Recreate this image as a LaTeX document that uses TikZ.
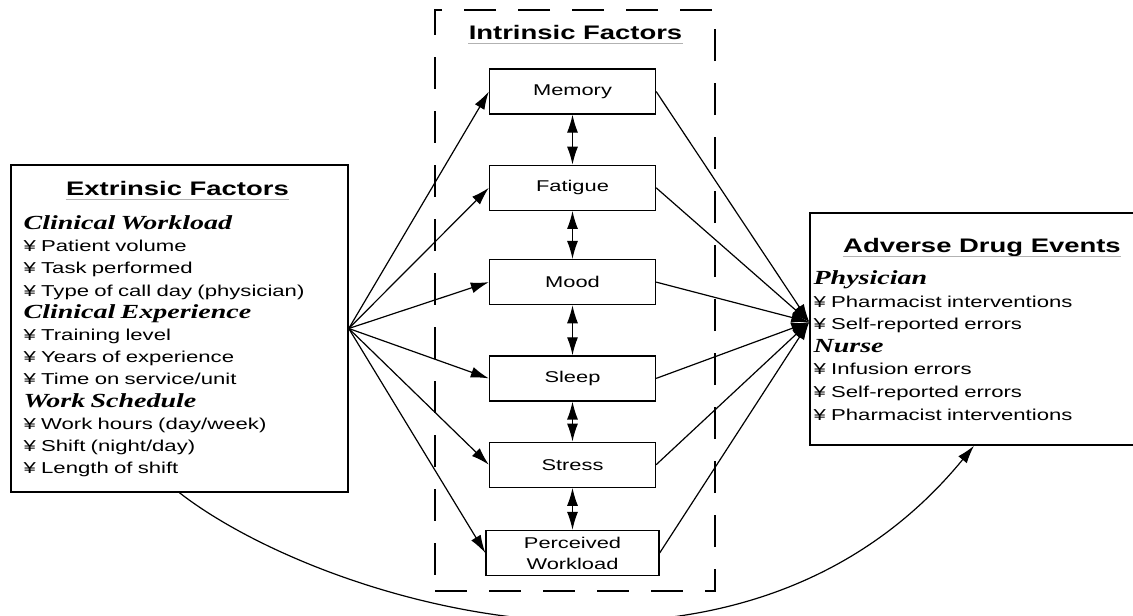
\documentclass[tikz,border=0pt]{standalone}
\usepackage{fontspec}
\setmainfont[FakeStretch=1.4]{Liberation Sans}
\newfontfamily\headfont[FakeStretch=1.4]{Liberation Serif}
\usetikzlibrary{positioning,arrows.meta}
\tikzstyle{factorbox}=[draw,line width=1.3pt,minimum width=166pt,minimum height=45pt,inner sep=2pt,align=center,font=\fontsize{15.6}{21}\selectfont]
\tikzstyle{groupbox}=[draw,line width=1.5pt,inner sep=0pt]
\tikzstyle{framebox}=[draw,line width=1.3pt,dash pattern=on 32pt off 22pt,inner sep=0pt]
\tikzstyle{titletext}=[inner sep=0pt,font=\fontsize{19.6}{22}\selectfont\bfseries]
\tikzstyle{listtext}=[inner sep=0pt,align=left,font=\fontsize{15.8}{22.2}\selectfont]
\tikzstyle{ruleline}=[gray!60,line width=0.8pt]
\newcommand{\subhead}[1]{{\fontsize{20}{22.2}\selectfont\headfont\bfseries\itshape #1}}
\newcommand{\newFactor}[3]{\node[factorbox](#1)[#3]{#2};}
\newcommand{\newLink}[3]{\path[#3] (#1) edge (#2);}

\begin{document}
\begin{tikzpicture}[x=1pt,y=-1pt,node distance=50pt,
        >={Latex[length=18pt,width=11pt]},
        line width=1.2pt
        ]
        \useasboundingbox (0,0) rectangle (1133,616);
        \clip (0,0) rectangle (1133,616);
        % outer boxes
        \node[groupbox,minimum width=337pt,minimum height=327pt] (ext) at (179.5,328.5) {};
        \node[titletext,anchor=base] (extT) at (177.5,195) {Extrinsic Factors};
        \draw[ruleline] ([yshift=-4pt]extT.base west) -- ([yshift=-4pt]extT.base east);
        \node[listtext,text width=320pt,anchor=north west] (extL) at (23,215) {%
          \subhead{Clinical Workload}\\
          ¥ Patient volume\\
          ¥ Task performed\\
          ¥ Type of call day (physician)\\
          \subhead{Clinical Experience}\\
          ¥ Training level\\
          ¥ Years of experience\\
          ¥ Time on service/unit\\
          \subhead{Work Schedule}\\
          ¥ Work hours (day/week)\\
          ¥ Shift (night/day)\\
          ¥ Length of shift};
        \node[groupbox,minimum width=328pt,minimum height=232pt] (ade) at (974,329) {};
        \node[titletext,anchor=base] (adeT) at (982,252) {Adverse Drug Events};
        \draw[ruleline] ([yshift=-4pt]adeT.base west) -- ([yshift=-4pt]adeT.base east);
        \node[listtext,text width=310pt,anchor=north west,font=\fontsize{15.8}{22.6}\selectfont] (adeL) at (813,270) {%
          \subhead{Physician}\\
          ¥ Pharmacist interventions\\
          ¥ Self-reported errors\\
          \subhead{Nurse}\\
          ¥ Infusion errors\\
          ¥ Self-reported errors\\
          ¥ Pharmacist interventions};
        \coordinate (adeIn) at ([yshift=7pt]ade.west);
        % intrinsic factors
        \node[framebox,minimum width=280pt,minimum height=581pt] (intr) at (575,300.5) {};
        \node[titletext,anchor=base] (intrT) at (575.5,39) {Intrinsic Factors};
        \draw[ruleline] ([yshift=-4pt]intrT.base west) -- ([yshift=-4pt]intrT.base east);
        \node[factorbox] (memory) at (572.5,91.5) {Memory};
        \newFactor{fatigue}{Fatigue}{below=of memory}
        \newFactor{mood}{Mood}{below=48pt of fatigue}
        \newFactor{sleep}{Sleep}{below=of mood}
        \newFactor{stress}{Stress}{below=40pt of sleep}
        \newFactor{workload}{Perceived\\Workload}{below=42pt of stress,minimum width=173pt}
        % links
        \foreach \f in {memory,fatigue,mood,sleep,stress,workload}{
          \newLink{ext.east}{\f.west}{->}
          \newLink{\f.east}{adeIn}{->}
        }
        \newLink{memory}{fatigue}{<->}
        \newLink{fatigue}{mood}{<->}
        \newLink{mood}{sleep}{<->}
        \newLink{sleep}{stress}{<->}
        \newLink{stress}{workload}{<->}
        \draw[->] (ext.south) .. controls (317,600) and (737,735) .. (ade.south);
\end{tikzpicture}
\end{document}
